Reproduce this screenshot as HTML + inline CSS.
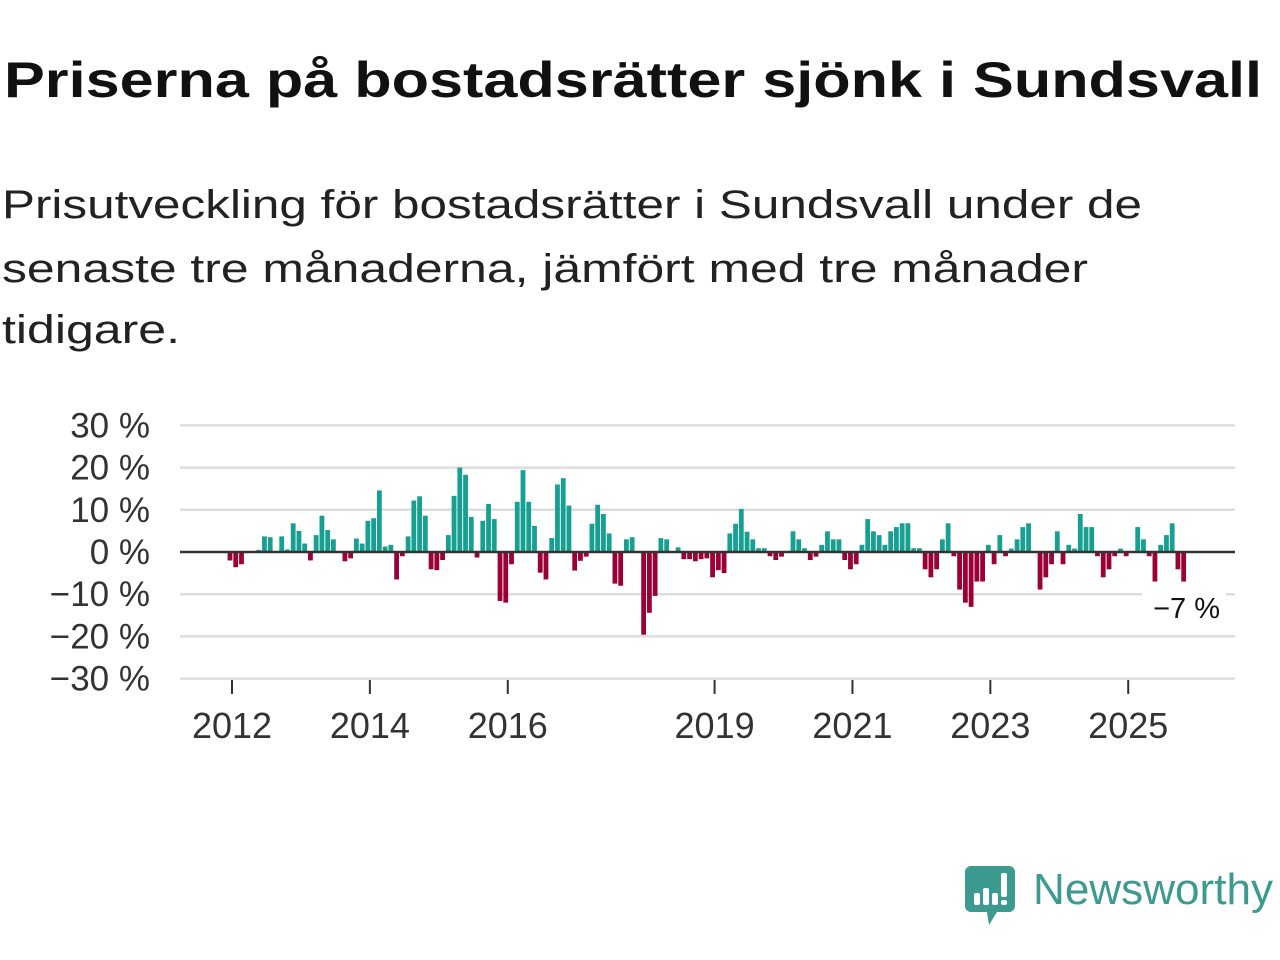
<!DOCTYPE html>
<html><head><meta charset="utf-8"><style>
html,body{margin:0;padding:0;background:#fff;width:1280px;height:960px;overflow:hidden}
svg{display:block;font-family:"Liberation Sans",sans-serif}
</style></head><body>
<svg id="chart" width="1280" height="960" viewBox="0 0 1280 960">
<text x="4" y="97" font-size="50" font-weight="bold" fill="#111" textLength="1258" lengthAdjust="spacingAndGlyphs">Priserna på bostadsrätter sjönk i Sundsvall</text>
<g fill="#222" font-size="40">
<text x="2" y="218" textLength="1140" lengthAdjust="spacingAndGlyphs">Prisutveckling för bostadsrätter i Sundsvall under de</text>
<text x="2" y="282" textLength="1086" lengthAdjust="spacingAndGlyphs">senaste tre månaderna, jämfört med tre månader</text>
<text x="2" y="343" textLength="178" lengthAdjust="spacingAndGlyphs">tidigare.</text>
</g>
<g id="grid"></g>
<g id="yticks"></g>
<g id="bars"></g>
<line x1="180" x2="1235" y1="552" y2="552" stroke="#333" stroke-width="2.5"/>
<g id="xticks"></g>
<g>
<rect x="1142" y="592" width="84" height="32" fill="#fff"/>
<text x="1220" y="618" text-anchor="end" font-size="29" fill="#111">−7 %</text>
</g>
<g>
<path d="M971 866 h38 a6 6 0 0 1 6 6 v34 a6 6 0 0 1 -6 6 h-12 l-8 13 l-2 -13 h-16 a6 6 0 0 1 -6 -6 v-34 a6 6 0 0 1 6 -6z" fill="#3d9a8f"/>
<rect x="974" y="893" width="6" height="12" rx="2" fill="#fff"/>
<rect x="983" y="888" width="6" height="17" rx="2" fill="#fff"/>
<rect x="992" y="893" width="6" height="12" rx="2" fill="#fff"/>
<rect x="1001" y="873" width="6" height="24" rx="2" fill="#fff"/>
<rect x="1001" y="900" width="6" height="5" rx="2" fill="#fff"/>
<text x="1033" y="904" font-size="44" fill="#3d9a8f" textLength="240" lengthAdjust="spacingAndGlyphs">Newsworthy</text>
</g>
</svg>
<script>
// monthly values starting Jan 2012
const startYear = 2012;
const values = [-2,-3.6,-2.9,0,0,0.5,3.7,3.5,0,3.7,0.6,6.8,5,2,-2,4,8.6,5.2,3,0,-2.2,-1.5,3.2,2,7.4,8,14.6,1.3,1.7,-6.5,-1,3.7,12.2,13.2,8.6,-4.1,-4.3,-1.9,4,13.3,20,18.3,8.3,-1.3,7.4,11.4,7.8,-11.6,-12,-2.9,11.9,19.4,11.9,6.2,-4.9,-6.5,3.3,16,17.5,11,-4.4,-2.1,-1.1,6.7,11.2,9,4.4,-7.5,-8,3,3.5,0,-19.6,-14.4,-10.4,3.3,3,0,1.1,-1.7,-1.7,-2.2,-1.7,-1.5,-6,-4.3,-5,4.4,6.7,10.2,4.8,3,0.9,0.9,-1,-1.9,-1.1,0,4.9,3,0.9,-1.9,-1.1,1.7,4.9,3,3,-1.9,-4.1,-2.9,1.7,7.8,4.9,4,1.7,4.9,5.9,6.8,6.8,0.9,0.9,-4.1,-6,-4.1,3,6.8,-1,-8.9,-12,-13,-7,-7,1.7,-2.9,4,-1,0.8,3,5.9,6.8,0,-8.9,-6,-2.9,4.9,-2.9,1.7,0.8,9,5.9,5.9,-1,-6,-4.1,-1,0.8,-1,0,5.9,3,-1,-7,1.7,4,6.8,-4.1,-7];
const yTicks = [30,20,10,0,-10,-20,-30];
const yLabels = ["30 %","20 %","10 %","0 %","−10 %","−20 %","−30 %"];
const xTickYears = [2012,2014,2016,2019,2021,2023,2025];

const NS = "http://www.w3.org/2000/svg";
const x = m => 230 + m * 5.745;
const y = v => 552 - v * 4.22;
function mk(tag, attrs, parent){const e=document.createElementNS(NS,tag);for(const k in attrs)e.setAttribute(k,attrs[k]);parent.appendChild(e);return e;}

const grid=document.getElementById('grid'), yt=document.getElementById('yticks');
yTicks.forEach((t,i)=>{
  if(t!==0){const l=mk('line',{x1:180,x2:1235,y1:y(t),y2:y(t),stroke:'#ddd','stroke-width':2.5},grid);
  
  }
  const tx=mk('text',{x:150,y:y(t)+12,'text-anchor':'end','font-size':35,fill:'#333'},yt);
  tx.textContent=yLabels[i];
  
  
});
const bars=document.getElementById('bars');
values.forEach((v,i)=>{
  if(v===0)return;
  const r=mk('rect',{x:x(i)-2.4,width:4.8,y:Math.min(y(v),y(0)),height:Math.abs(y(v)-y(0)),fill:v>0?'#17a091':'#9b0136'},bars);
  
  
});
const xt=document.getElementById('xticks');
xTickYears.forEach(yr=>{
  const m=(yr-startYear)*12, px=x(m)+2;
  const l=mk('line',{x1:px,x2:px,y1:680,y2:694,stroke:'#333','stroke-width':2},xt);
  
  
  const t=mk('text',{x:px,y:738,'text-anchor':'middle','font-size':36,fill:'#333'},xt);
  t.textContent=yr;
  
  
});
</script>
</body></html>
